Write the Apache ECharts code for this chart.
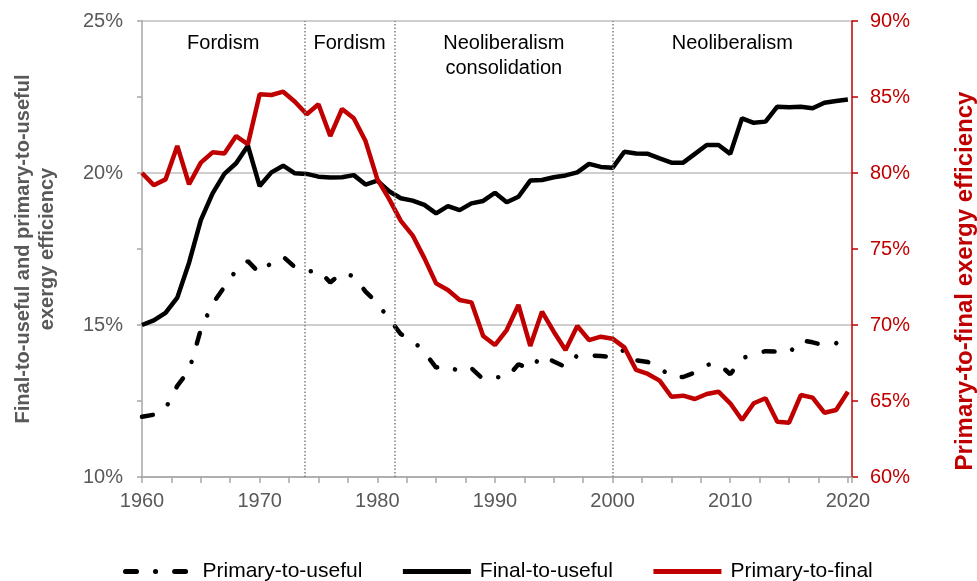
<!DOCTYPE html>
<html>
<head>
<meta charset="utf-8">
<script src="https://cdn.jsdelivr.net/npm/echarts@6/dist/echarts.min.js"></script>
<style>
html,body{margin:0;padding:0;background:#fff;}
#chart{width:977px;height:581px;}
</style>
</head>
<body>
<div id="chart"></div>
<script>
const years = [];
for (let y = 1960; y <= 2020; y++) years.push(y);

const primaryToUseful = [11.98,12.05,12.25,13.0,13.5,14.85,15.7,16.25,16.8,17.1,
16.7,17.05,17.25,16.9,16.75,16.8,16.4,16.72,16.6,16.1,
15.72,15.2,14.7,14.5,14.1,13.6,13.67,13.45,13.58,13.22,
13.29,13.27,13.71,13.55,14.0,13.8,13.62,14.0,14.0,13.98,
13.94,14.19,13.84,13.78,13.6,13.28,13.29,13.44,13.69,13.73,
13.38,13.9,14.04,14.14,14.12,14.08,14.5,14.43,14.33,14.4,
14.71];

const finalToUseful = [15.0,15.15,15.4,15.9,17.05,18.45,19.33,19.97,20.32,20.9,
19.57,20.02,20.24,19.99,19.97,19.88,19.85,19.86,19.93,19.62,
19.75,19.4,19.17,19.09,18.95,18.67,18.91,18.78,19.0,19.08,
19.35,19.04,19.22,19.75,19.77,19.86,19.92,20.02,20.3,20.2,
20.17,20.7,20.64,20.63,20.48,20.34,20.34,20.63,20.92,20.92,
20.63,21.8,21.65,21.69,22.18,22.16,22.18,22.13,22.31,22.37,
22.42];

const primaryToFinal = [80.0,79.2,79.58,81.78,79.26,80.68,81.36,81.29,82.43,81.89,
85.18,85.13,85.35,84.69,83.86,84.52,82.43,84.21,83.6,82.1,
79.6,78.3,76.85,75.9,74.4,72.74,72.3,71.64,71.49,69.28,
68.68,69.67,71.32,68.62,70.88,69.56,68.36,69.93,69.01,69.23,
69.1,68.53,67.04,66.78,66.34,65.28,65.35,65.13,65.46,65.61,
64.85,63.75,64.85,65.18,63.64,63.57,65.39,65.22,64.23,64.41,
65.61];

const periods = [
  {name: 'Fordism', from: 1960, to: 1973.8},
  {name: 'Fordism', from: 1973.8, to: 1981.5},
  {name: 'Neoliberalism\nconsolidation', from: 1981.5, to: 2000},
  {name: 'Neoliberalism', from: 2000, to: 2020.35}
];
const boundaries = [1973.8, 1981.5, 2000];

const leftTicks = [10, 25, 5];
const rightTicks = [60, 90, 5];

const FONT = '"Liberation Sans", Arial, sans-serif';
const GRAY = '#595959';
const RED = '#C00000';

const pair = arr => years.map((y, i) => [y, arr[i]]);

const chart = echarts.init(document.getElementById('chart'), null, {renderer: 'canvas'});
chart.setOption({
  animation: false,
  textStyle: {fontFamily: FONT},
  grid: {left: 142, right: 125, top: 21, bottom: 104},
  graphic: [{
    type: 'text', x: 965, y: 281, rotation: Math.PI / 2, silent: true,
    style: {
      text: 'Primary-to-final exergy efficiency',
      fill: RED, font: 'bold 24px "Liberation Sans", Arial, sans-serif',
      align: 'center', verticalAlign: 'middle'
    }
  }],
  legend: {
    left: 118, top: 556,
    itemWidth: 68, itemHeight: 24, itemGap: 38,
    itemStyle: {color: 'rgba(0,0,0,0)', borderWidth: 0, opacity: 0},
    lineStyle: {width: 5},
    textStyle: {fontSize: 21, color: '#000', fontFamily: FONT, padding: [0, 0, 0, 4]},
    data: ['Primary-to-useful', 'Final-to-useful', 'Primary-to-final']
  },
  xAxis: {
    type: 'value', min: 1960, max: 2020.35, interval: 10,
    axisLine: {show: true, lineStyle: {color: '#A6A6A6', width: 1.5}},
    axisTick: {show: true, length: 6, inside: false, lineStyle: {color: '#A6A6A6', width: 1.5}},
    minorTick: {show: true, splitNumber: 4, length: 6, lineStyle: {color: '#A6A6A6', width: 1.5}},
    splitLine: {show: false},
    axisLabel: {
      fontSize: 20, color: GRAY, margin: 14, fontFamily: FONT,
      formatter: v => (Math.abs(v % 10) < 1e-6 ? String(v) : '')
    }
  },
  yAxis: [
    {
      type: 'value', position: 'left',
      min: leftTicks[0], max: leftTicks[1], interval: leftTicks[2],
      name: 'Final-to-useful and primary-to-useful\nexergy efficiency',
      nameLocation: 'middle', nameGap: 83,
      nameTextStyle: {fontSize: 20, fontWeight: 'bold', color: GRAY, lineHeight: 24, fontFamily: FONT},
      axisLine: {show: true, lineStyle: {color: '#A6A6A6', width: 1.5}},
      axisTick: {show: true, length: 5, lineStyle: {color: '#A6A6A6', width: 1.5}},
      minorTick: {show: true, splitNumber: 2, length: 5, lineStyle: {color: '#A6A6A6', width: 1.5}},
      splitLine: {show: true, lineStyle: {color: '#BFBFBF', width: 1.5}},
      axisLabel: {fontSize: 20, color: GRAY, margin: 19, formatter: '{value}%', fontFamily: FONT}
    },
    {
      type: 'value', position: 'right',
      min: rightTicks[0], max: rightTicks[1], interval: rightTicks[2],
      axisLine: {show: true, lineStyle: {color: RED, width: 1.5}},
      axisTick: {show: true, length: 6, lineStyle: {color: RED, width: 1.5}},
      splitLine: {show: false},
      axisLabel: {fontSize: 20, color: RED, margin: 18, formatter: '{value}%', fontFamily: FONT}
    }
  ],
  series: [
    {
      name: 'Primary-to-useful', type: 'line', yAxisIndex: 0,
      data: pair(primaryToUseful), symbol: 'none',
      lineStyle: {color: '#000', width: 4.5, type: [11, 19, 0.1, 19], cap: 'round'},
      itemStyle: {color: '#000'},
      markArea: {
        silent: true,
        itemStyle: {color: 'rgba(0,0,0,0)'},
        label: {show: true, position: 'insideTop', distance: 10, fontSize: 20, color: '#000', lineHeight: 25, fontFamily: FONT},
        data: periods.map(p => [{name: p.name, xAxis: p.from}, {xAxis: p.to}])
      },
      markLine: {
        silent: true, symbol: 'none',
        label: {show: false},
        lineStyle: {color: '#808080', width: 1.5, type: [1.5, 2]},
        data: boundaries.map(b => ({xAxis: b}))
      }
    },
    {
      name: 'Final-to-useful', type: 'line', yAxisIndex: 0,
      data: pair(finalToUseful), symbol: 'none',
      lineStyle: {color: '#000', width: 4.5},
      itemStyle: {color: '#000'}
    },
    {
      name: 'Primary-to-final', type: 'line', yAxisIndex: 1,
      data: pair(primaryToFinal), symbol: 'none',
      lineStyle: {color: RED, width: 4.5},
      itemStyle: {color: RED}
    }
  ]
});
</script>
</body>
</html>
